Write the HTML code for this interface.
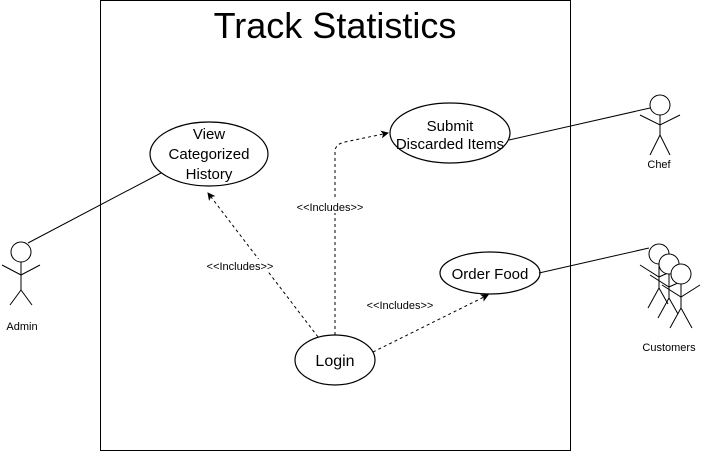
<!DOCTYPE html>
<html><head><style>body{margin:0;background:#fff}svg{display:block}</style></head>
<body>
<svg width="702" height="451" xmlns="http://www.w3.org/2000/svg" font-family="Liberation Sans, Arial, sans-serif">
<defs><marker id="a" markerWidth="8" markerHeight="8" refX="7" refY="4" orient="auto" markerUnits="userSpaceOnUse"><path d="M0,0 L8,4 L0,8 L2,4 Z" fill="#000"/></marker></defs>
<rect x="100.5" y="0.5" width="470" height="450" fill="#fff" stroke="#000"/>
<text x="335" y="38" font-size="36" text-anchor="middle">Track Statistics</text>
<g fill="#fff" stroke="#000" stroke-width="1.2">
<ellipse cx="209" cy="154" rx="59" ry="32"/>
<ellipse cx="450" cy="133" rx="60" ry="30"/>
<ellipse cx="490" cy="273" rx="50" ry="21"/>
<ellipse cx="335" cy="360" rx="40" ry="25"/>
</g>
<g font-size="15" text-anchor="middle">
<text x="209" y="139">View</text><text x="209" y="159">Categorized</text><text x="209" y="179">History</text>
<text x="450" y="131">Submit</text><text x="450" y="149">Discarded Items</text>
<text x="490" y="279">Order Food</text>
<text x="335" y="366" font-size="16">Login</text>
</g>
<g stroke="#000" stroke-dasharray="3,3" fill="none" stroke-width="1">
<path d="M318,337 L208,193" marker-end="url(#a)"/>
<path d="M335,335 L335,152 Q335,144 345,142 L388,133" marker-end="url(#a)"/>
<path d="M373,352 L488,295" marker-end="url(#a)"/>
</g>
<g font-size="11" text-anchor="middle" fill="#000">
<rect x="203" y="259" width="74" height="13" fill="#fff"/>
<text x="240" y="270">&lt;&lt;Includes&gt;&gt;</text>
<rect x="293" y="200" width="74" height="13" fill="#fff"/>
<text x="330" y="211">&lt;&lt;Includes&gt;&gt;</text>
<text x="400" y="309">&lt;&lt;Includes&gt;&gt;</text>
</g>
<g stroke="#000" fill="none" stroke-width="1">
<line x1="28" y1="243" x2="161" y2="173"/>
<line x1="509" y1="140" x2="650" y2="108"/>
<line x1="539" y1="273" x2="649" y2="248"/>
<circle cx="21" cy="252" r="10" fill="#fff"/>
<path d="M21,262 V290 M2,265 L21,275 L40,265 M21,290 L10,305 M21,290 L32,305"/>
<circle cx="660" cy="105" r="10" fill="#fff"/>
<path d="M660,115 V135 M640,115 L660,125 L680,115 M660,135 L650,155 M660,135 L670,155"/>
<circle cx="659" cy="254" r="10" fill="#fff"/>
<path d="M659,264 V288 M640,265 L659,277 L670,272 M659,288 L648,308 M659,288 L668,304"/>
<circle cx="669" cy="264" r="10" fill="#fff"/>
<path d="M669,274 V298 M650,275 L669,287 L680,282 M669,298 L658,318 M669,298 L678,314"/>
<circle cx="681" cy="274" r="10" fill="#fff"/>
<path d="M681,284 V308 M662,285 L681,297 L700,285 M681,308 L670,328 M681,308 L692,328"/>
</g>
<g font-size="11" text-anchor="middle">
<text x="22" y="330">Admin</text>
<text x="659" y="168">Chef</text>
<text x="669" y="351">Customers</text>
</g>
</svg>
</body></html>
